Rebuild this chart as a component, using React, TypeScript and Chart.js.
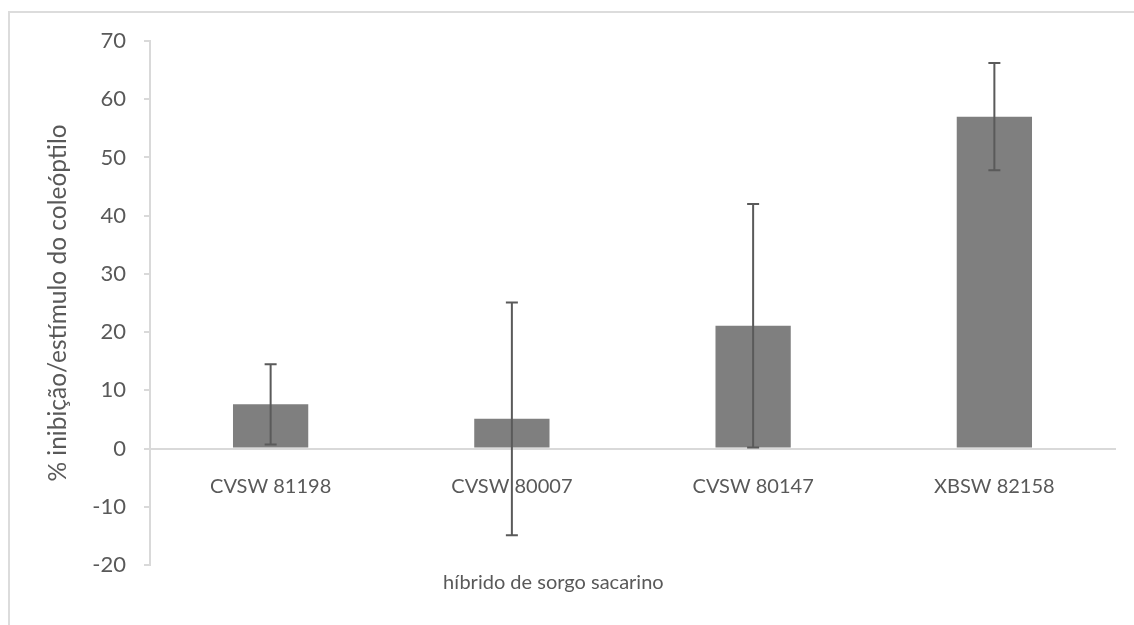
import React, { useEffect, useRef } from "react";
import { Chart, registerables } from "chart.js";

Chart.register(...registerables);

const categories = ["CVSW 81198", "CVSW 80007", "CVSW 80147", "XBSW 82158"];
const means = [7.6, 5.1, 21.1, 57.0];
const errors = [6.9, 20.0, 20.9, 9.2];
const yMin = -20;
const yMax = 70;
const yStep = 10;
const xTitle = "híbrido de sorgo sacarino";
const yTitle = "% inibição/estímulo do coleóptilo";

const FONT = "Lato, 'Open Sans', sans-serif";
const TEXT_COLOR = "#595959";

const errorBarPlugin = {
  id: "errorBars",
  afterDatasetsDraw(chart: any) {
    const meta = chart.getDatasetMeta(0);
    const yScale = chart.scales.y;
    const ctx = chart.ctx;
    ctx.save();
    ctx.strokeStyle = "#5a5a5a";
    ctx.lineWidth = 2;
    meta.data.forEach((bar: any, i: number) => {
      const x = bar.x;
      const top = yScale.getPixelForValue(means[i] + errors[i]);
      const bot = yScale.getPixelForValue(means[i] - errors[i]);
      ctx.beginPath();
      ctx.moveTo(x, top);
      ctx.lineTo(x, bot);
      ctx.moveTo(x - 6, top);
      ctx.lineTo(x + 6, top);
      ctx.moveTo(x - 6, bot);
      ctx.lineTo(x + 6, bot);
      ctx.stroke();
    });
    ctx.restore();
  },
};

const titlesPlugin = {
  id: "axisTitles",
  afterDraw(chart: any) {
    const { ctx, chartArea } = chart;
    ctx.save();
    ctx.fillStyle = TEXT_COLOR;
    ctx.textAlign = "center";
    ctx.textBaseline = "middle";
    ctx.font = `20px ${FONT}`;
    const xc = chartArea.left + (chartArea.right - chartArea.left) * 0.418;
    ctx.fillText(xTitle, xc, 583);
    ctx.font = `24.5px ${FONT}`;
    ctx.translate(58, (chartArea.top + chartArea.bottom) / 2);
    ctx.rotate(-Math.PI / 2);
    ctx.fillText(yTitle, 0, 0);
    ctx.restore();
  },
};

export default function App() {
  const ref = useRef<HTMLCanvasElement | null>(null);

  useEffect(() => {
    document.body.style.margin = "0";
    const canvas = ref.current;
    if (!canvas) return;
    const chart = new Chart(canvas, {
      type: "bar",
      data: {
        labels: categories,
        datasets: [
          {
            data: means,
            backgroundColor: "#7f7f7f",
            borderWidth: 0,
            barPercentage: 0.312,
            categoryPercentage: 1,
          },
        ],
      },
      options: {
        animation: false,
        responsive: false,
        maintainAspectRatio: false,
        devicePixelRatio: 1,
        layout: { padding: { left: 0, right: 19, top: 41, bottom: 60 } },
        plugins: {
          legend: { display: false },
          tooltip: { enabled: false },
          title: { display: false },
        },
        scales: {
          x: {
            position: { y: 0 } as any,
            grid: { display: false, drawTicks: false },
            border: { display: true, color: "#d9d9d9", width: 2 },
            ticks: {
              color: TEXT_COLOR,
              font: { family: FONT, size: 20 },
              padding: 26,
              maxRotation: 0,
            },
          },
          y: {
            min: yMin,
            max: yMax,
            afterFit(scale: any) {
              scale.width = 150;
            },
            grid: {
              drawOnChartArea: false,
              drawTicks: true,
              tickLength: 6,
              color: "#d9d9d9",
              lineWidth: 2,
            },
            border: { display: true, color: "#d9d9d9", width: 2 },
            ticks: {
              stepSize: yStep,
              color: TEXT_COLOR,
              font: { family: FONT, size: 22 },
              padding: 18,
            },
          },
        },
      },
      plugins: [errorBarPlugin, titlesPlugin],
    });
    return () => chart.destroy();
  }, []);

  return (
    <div style={{ position: "relative", width: 1134, height: 625, background: "#fff", overflow: "hidden" }}>
      <div
        style={{
          position: "absolute",
          left: 8,
          top: 11,
          width: 1200,
          height: 700,
          borderTop: "2px solid #dcdcdc",
          borderLeft: "2px solid #dcdcdc",
        }}
      />
      <canvas ref={ref} width={1134} height={625} style={{ position: "absolute", left: 0, top: 0 }} />
    </div>
  );
}
